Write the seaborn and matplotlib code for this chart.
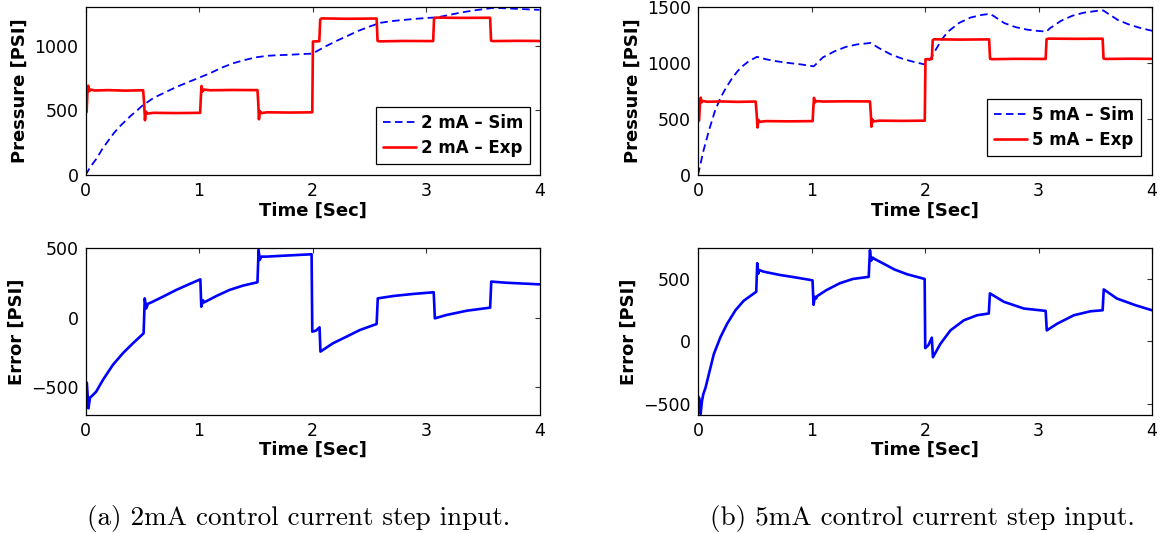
import numpy as np
import pandas as pd
import matplotlib
matplotlib.use("Agg")
import matplotlib.pyplot as plt
import seaborn as sns

# ---- measured pressure (same experiment trace in both cases) ----
t_exp = [0.000, 0.010, 0.018, 0.024, 0.032, 0.045, 0.080, 0.200, 0.350, 0.508,
         0.516, 0.524, 0.532, 0.545, 0.600, 0.800, 1.010, 1.016, 1.022, 1.030,
         1.045, 1.100, 1.300, 1.515, 1.522, 1.528, 1.536, 1.550, 1.600, 1.800,
         1.998, 2.004, 2.060, 2.068, 2.080, 2.300, 2.565, 2.573, 2.590, 2.800,
         3.063, 3.071, 3.090, 3.300, 3.565, 3.573, 3.590, 3.800, 4.000]
p_exp = [480, 488, 660, 692, 650, 662, 655, 658, 654, 657,
         560, 425, 492, 476, 482, 480, 482, 600, 690, 648,
         662, 657, 659, 658, 560, 432, 496, 480, 486, 484,
         486, 1035, 1037, 1205, 1214, 1211, 1213, 1040, 1036, 1039,
         1038, 1215, 1220, 1218, 1219, 1042, 1038, 1040, 1039]

# ---- simulated pressure, 2 mA ----
t_sim_2ma = [0.0, 0.05, 0.1, 0.15, 0.2, 0.25, 0.3, 0.35, 0.4, 0.45, 0.5,
             0.6, 0.7, 0.8, 0.9, 1.0, 1.1, 1.2, 1.3, 1.4, 1.5,
             1.6, 1.7, 1.8, 1.9, 2.0, 2.1, 2.2, 2.3, 2.4, 2.5,
             2.6, 2.7, 2.8, 2.9, 3.0, 3.1, 3.2, 3.3, 3.4, 3.5,
             3.6, 3.7, 3.8, 3.9, 4.0]
p_sim_2ma = [0, 72, 130, 205, 265, 325, 375, 418, 460, 497, 537,
             598, 640, 682, 718, 754, 790, 832, 866, 891, 912,
             924, 929, 932, 937, 941, 990, 1035, 1075, 1116, 1150,
             1180, 1193, 1202, 1210, 1217, 1222, 1240, 1258, 1273, 1285,
             1296, 1292, 1288, 1284, 1280]

# ---- simulated pressure, 5 mA ----
t_sim_5ma = [0.0, 0.05, 0.1, 0.15, 0.2, 0.25, 0.3, 0.35, 0.4, 0.45, 0.52,
             0.6, 0.7, 0.8, 0.9, 1.02, 1.1, 1.2, 1.3, 1.4, 1.52,
             1.6, 1.7, 1.8, 1.9, 2.0, 2.05, 2.1, 2.15, 2.2, 2.3, 2.4, 2.5, 2.57,
             2.6, 2.7, 2.8, 2.9, 3.0, 3.07, 3.1, 3.2, 3.3, 3.4, 3.5, 3.57,
             3.6, 3.7, 3.8, 3.9, 4.0]
p_sim_5ma = [0, 225, 410, 575, 695, 785, 865, 930, 980, 1020, 1057,
             1035, 1016, 1002, 990, 972, 1052, 1105, 1145, 1168, 1181,
             1132, 1078, 1040, 1012, 988, 1040, 1130, 1215, 1280, 1360, 1408, 1432, 1441,
             1425, 1358, 1322, 1300, 1288, 1283, 1312, 1380, 1425, 1452, 1466, 1472,
             1452, 1386, 1345, 1314, 1290]

# ---- error (sim - exp), 2 mA ----
t_err_2ma = [0.000, 0.012, 0.026, 0.040, 0.050, 0.094, 0.153, 0.241, 0.329, 0.418,
             0.512, 0.522, 0.535, 0.550, 0.580, 0.682, 0.800, 0.918, 1.012, 1.020,
             1.035, 1.045, 1.153, 1.270, 1.388, 1.515, 1.525, 1.535, 1.550, 1.594,
             1.756, 1.992, 1.998, 2.030, 2.062, 2.070, 2.180, 2.300, 2.418, 2.565,
             2.575, 2.712, 2.889, 3.068, 3.078, 3.180, 3.360, 3.565, 3.575, 3.700,
             4.000]
e_err_2ma = [-462, -470, -654, -575, -570, -534, -450, -341, -257, -185,
             -113, 139, 67, 100, 110, 151, 200, 243, 276, 79,
             125, 110, 156, 200, 231, 255, 488, 416, 440, 440,
             447, 457, -101, -94, -70, -245, -185, -137, -89, -46,
             139, 156, 171, 183, -5, 19, 50, 72, 260, 252,
             240]

# ---- error (sim - exp), 5 mA ----
t_err_5ma = [0.000, 0.012, 0.023, 0.035, 0.047, 0.067, 0.096, 0.140, 0.198, 0.257,
             0.330, 0.402, 0.513, 0.522, 0.530, 0.540, 0.577, 0.723, 0.869, 1.009,
             1.018, 1.030, 1.040, 1.050, 1.131, 1.248, 1.364, 1.504, 1.515, 1.525,
             1.540, 1.554, 1.656, 1.729, 1.842, 1.997, 2.002, 2.030, 2.060, 2.070,
             2.136, 2.224, 2.342, 2.459, 2.562, 2.572, 2.695, 2.871, 3.063, 3.073,
             3.165, 3.312, 3.459, 3.565, 3.575, 3.690, 3.853, 4.000]
e_err_5ma = [-440, -460, -585, -480, -424, -370, -262, -100, 35, 143,
             251, 327, 400, 630, 545, 575, 562, 535, 514, 492,
             295, 360, 345, 365, 413, 468, 503, 520, 735, 650,
             675, 665, 616, 580, 541, 503, -54, -30, 30, -127,
             -19, 89, 170, 211, 225, 387, 319, 265, 246, 89,
             143, 211, 243, 251, 419, 346, 292, 251]

time_ticks = [0, 1, 2, 3, 4]
captions = ["(a) 2mA control current step input.", "(b) 5mA control current step input."]

sns.set_style("white")
plt.rcParams["font.family"] = ["DejaVu Sans"]
plt.rcParams["text.color"] = "black"
plt.rcParams["axes.labelcolor"] = "black"
plt.rcParams["xtick.color"] = "black"
plt.rcParams["ytick.color"] = "black"
plt.rcParams["axes.unicode_minus"] = True

W, H = 1161, 533
fig = plt.figure(figsize=(W / 100, H / 100), dpi=100)


def px_axes(left, right, top, bottom):
    return fig.add_axes([left / W, 1 - bottom / H, (right - left) / W, (bottom - top) / H])


ax_pa = px_axes(85.5, 539.5, 7.3, 175)
ax_pb = px_axes(698, 1152, 7.3, 175)
ax_ea = px_axes(85.5, 539.5, 248.3, 414.7)
ax_eb = px_axes(698, 1152, 248.3, 414.7)

BLUE = "#0000ff"
RED = "#ff0000"

exp_df = pd.DataFrame({"t": t_exp, "p": p_exp})

for ax, ts, ps, tag in [(ax_pa, t_sim_2ma, p_sim_2ma, "2 mA"),
                        (ax_pb, t_sim_5ma, p_sim_5ma, "5 mA")]:
    sim_df = pd.DataFrame({"t": ts, "p": ps})
    sns.lineplot(data=sim_df, x="t", y="p", ax=ax, color=BLUE, lw=1.3,
                 estimator=None, sort=False, label=f"{tag} – Sim",
                 linestyle=(0, (4.2, 2.4)))
    sns.lineplot(data=exp_df, x="t", y="p", ax=ax, color=RED, lw=1.9,
                 estimator=None, sort=False, label=f"{tag} – Exp")

for ax, ts, es in [(ax_ea, t_err_2ma, e_err_2ma), (ax_eb, t_err_5ma, e_err_5ma)]:
    err_df = pd.DataFrame({"t": ts, "e": es})
    sns.lineplot(data=err_df, x="t", y="e", ax=ax, color=BLUE, lw=1.9,
                 estimator=None, sort=False)

ax_pa.set_ylim(0, 1300)
ax_pa.set_yticks([0, 500, 1000])
ax_pb.set_ylim(0, 1500)
ax_pb.set_yticks([0, 500, 1000, 1500])
ax_ea.set_ylim(-700, 500)
ax_ea.set_yticks([-500, 0, 500])
ax_eb.set_ylim(-590, 750)
ax_eb.set_yticks([-500, 0, 500])

for ax in (ax_pa, ax_pb, ax_ea, ax_eb):
    ax.set_xlim(0, 4)
    ax.set_xticks(time_ticks)
    ax.tick_params(direction="in", length=3.5, width=0.8, color="#333333",
                   labelcolor="black", top=True, right=True, labelsize=12.5, pad=5)
    for s in ax.spines.values():
        s.set_visible(True)
        s.set_color("black")
        s.set_linewidth(0.9)
    ax.set_xlabel("Time [Sec]", fontsize=13, fontweight="bold", labelpad=1)

for ax in (ax_pa, ax_pb):
    ax.set_ylabel("Pressure [PSI]", fontsize=13, fontweight="bold", labelpad=4)
for ax in (ax_ea, ax_eb):
    ax.set_ylabel("Error [PSI]", fontsize=13, fontweight="bold", labelpad=4)

legend_style = dict(loc="lower right", borderaxespad=0, frameon=True, fancybox=False,
                    framealpha=1, edgecolor="black", prop={"weight": "bold", "size": 12},
                    handlelength=2.0, handletextpad=0.3, labelspacing=0.45, borderpad=0.4)
leg_a = ax_pa.legend(bbox_to_anchor=((530 - 85.5) / 454, (175 - 164) / 167.7), **legend_style)
leg_b = ax_pb.legend(bbox_to_anchor=((1141 - 698) / 454, (175 - 156) / 167.7), **legend_style)
for leg in (leg_a, leg_b):
    leg.get_frame().set_linewidth(0.9)
    for txt in leg.get_texts():
        txt.set_color("black")

fig.text(299 / W, 1 - 518 / H, captions[0], ha="center", va="center",
         fontfamily="cmr10", fontsize=19.5, color="black")
fig.text(922 / W, 1 - 518 / H, captions[1], ha="center", va="center",
         fontfamily="cmr10", fontsize=19.5, color="black")

fig.savefig("out.png", dpi=100, facecolor="white")
